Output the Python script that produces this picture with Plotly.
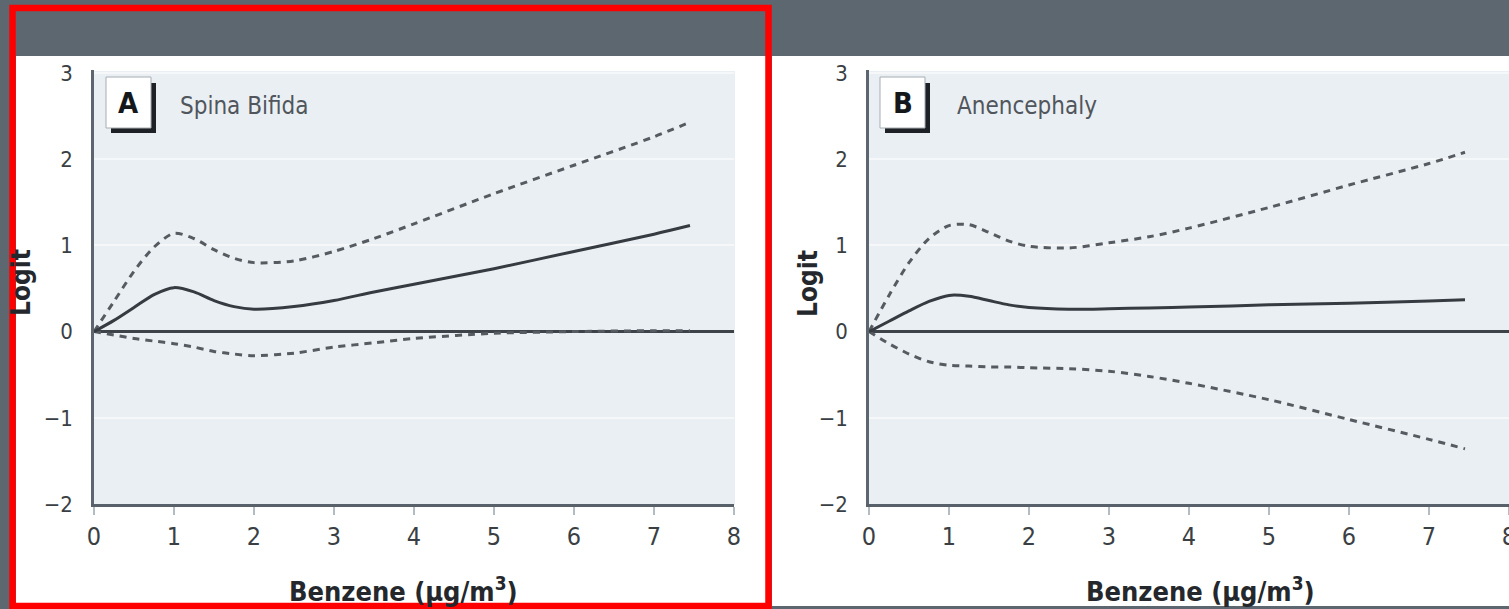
import plotly.graph_objects as go

# ---------------- data ----------------
x_vals = [0, 0.25, 0.5, 0.75, 1, 1.25, 1.5, 1.75, 2, 2.5, 3, 3.5, 4, 5, 6, 7, 7.45]

a_center = [0, 0.13, 0.28, 0.43, 0.51, 0.46, 0.36, 0.29, 0.26, 0.29, 0.36, 0.46, 0.55, 0.73, 0.93, 1.13, 1.23]
a_upper = [0, 0.35, 0.70, 0.98, 1.14, 1.08, 0.95, 0.85, 0.80, 0.82, 0.93, 1.08, 1.25, 1.60, 1.93, 2.26, 2.43]
a_lower = [0, -0.04, -0.08, -0.11, -0.14, -0.18, -0.23, -0.26, -0.28, -0.25, -0.18, -0.13, -0.08, -0.02, 0.0, 0.01, 0.01]

b_center = [0, 0.12, 0.24, 0.35, 0.42, 0.41, 0.36, 0.31, 0.28, 0.26, 0.265, 0.275, 0.285, 0.31, 0.33, 0.355, 0.37]
b_upper = [0, 0.42, 0.80, 1.08, 1.23, 1.24, 1.15, 1.05, 0.99, 0.97, 1.03, 1.10, 1.20, 1.44, 1.70, 1.95, 2.08]
b_lower = [0, -0.14, -0.26, -0.35, -0.39, -0.40, -0.41, -0.41, -0.42, -0.43, -0.46, -0.52, -0.60, -0.79, -1.02, -1.25, -1.36]

x_ticks = [0, 1, 2, 3, 4, 5, 6, 7, 8]
y_ticks = [-2, -1, 0, 1, 2, 3]
panel_letters = ["A", "B"]
panel_names = ["Spina Bifida", "Anencephaly"]
x_title = "Benzene (µg/m<sup>3</sup>)"
y_title = "Logit"

# ---------------- layout helpers ----------------
W, H = 1509, 609
FONT = "DejaVu Sans Condensed, Liberation Sans Narrow, Roboto Condensed, Arial Narrow, sans-serif"
BG = "#5c6770"
PLOT_BG = "#eaeff3"
TXT = "#3a3f44"


def px(x):
    return x / W


def py(y):
    return 1 - y / H


def rect(x0, y0, x1, y1, fill, line_color=None, line_width=0, layer="below"):
    return dict(type="rect", xref="paper", yref="paper",
                x0=px(x0), x1=px(x1), y0=py(y1), y1=py(y0),
                fillcolor=fill, layer=layer,
                line=dict(color=line_color or fill, width=line_width))


fig = go.Figure()

series = [(a_center, a_upper, a_lower, "x", "y"), (b_center, b_upper, b_lower, "x2", "y2")]
for center, upper, lower, xa, ya in series:
    for vals, dash, color, width in [(upper, "7px,6px", "#555b61", 3),
                                     (lower, "7px,6px", "#555b61", 3),
                                     (center, "solid", "#363b41", 3)]:
        fig.add_trace(go.Scatter(x=x_vals, y=vals, xaxis=xa, yaxis=ya, mode="lines",
                                 line=dict(color=color, width=width, dash=dash,
                                           shape="spline", smoothing=0.8),
                                 showlegend=False, hoverinfo="skip"))

y_dom = [py(504), py(70.4)]
common_x = dict(range=[0, 8], tickvals=x_ticks, showgrid=False, zeroline=False,
                showline=True, linecolor="#58616a", linewidth=3, automargin=False,
                ticks="outside", ticklen=8, tickwidth=2, tickcolor="#b3bbc3",
                ticklabeloverflow="allow",
                tickfont=dict(family=FONT, size=25, color=TXT), fixedrange=True)
common_y = dict(range=[-2, 3.03], tickvals=y_ticks, domain=y_dom, automargin=False,
                showgrid=True, gridcolor="#f5f7f9", gridwidth=2,
                zeroline=True, zerolinecolor="#3d4349", zerolinewidth=2.5,
                showline=True, linecolor="#5d666e", linewidth=2.5,
                ticks="", ticklabelstandoff=14,
                tickfont=dict(family=FONT, size=22, color=TXT), fixedrange=True)

fig.update_layout(
    width=W, height=H, margin=dict(l=0, r=0, t=0, b=0, pad=0, autoexpand=False),
    paper_bgcolor=BG, plot_bgcolor="rgba(0,0,0,0)",
    xaxis=dict(domain=[px(94), px(734)], anchor="y", **common_x),
    yaxis=dict(anchor="x", **common_y),
    xaxis2=dict(domain=[px(869), 1.0], anchor="y2", **common_x),
    yaxis2=dict(anchor="x2", **common_y),
)

shapes = [
    rect(16, 56, 766, 604, "white"),
    rect(772, 56, W, 606, "white"),
    rect(94, 71, 735, 505, PLOT_BG),
    rect(869, 71, W, 505, PLOT_BG),
]
annotations = []
box_x = [106, 880]
name_x = [178, 955]
title_x = [403.5, 1200]
ylab_x = [21, 808]
for i in range(2):
    bx = box_x[i]
    shapes.append(rect(bx + 5, 83, bx + 50, 133, "#1e2226"))
    shapes.append(rect(bx, 77, bx + 45, 128, "white", "#a7adb3", 1))
    annotations.append(dict(text="<b>%s</b>" % panel_letters[i], x=px(bx + 22.5), y=py(103),
                            xref="paper", yref="paper", showarrow=False,
                            xanchor="center", yanchor="middle",
                            font=dict(family=FONT, size=29, color="#15181b")))
    annotations.append(dict(text=panel_names[i], x=px(name_x[i]), y=py(106),
                            xref="paper", yref="paper", showarrow=False,
                            xanchor="left", yanchor="middle",
                            font=dict(family=FONT, size=24, color="#50565c")))
    annotations.append(dict(text="<b>%s</b>" % x_title, x=px(title_x[i]), y=py(589),
                            xref="paper", yref="paper", showarrow=False,
                            xanchor="center", yanchor="middle",
                            font=dict(family=FONT, size=27, color="#24282c")))
    annotations.append(dict(text="<b>%s</b>" % y_title, x=px(ylab_x[i]), y=py(283),
                            xref="paper", yref="paper", showarrow=False, textangle=-90,
                            xanchor="center", yanchor="middle",
                            font=dict(family=FONT, size=26, color="#24282c")))

# red highlight frame around panel A (drawn on top)
shapes.append(dict(type="rect", xref="paper", yref="paper",
                   x0=px(12.5), x1=px(768.5), y0=py(606), y1=py(8),
                   line=dict(color="#ff0000", width=6.5), fillcolor="rgba(0,0,0,0)", layer="above"))

fig.update_layout(shapes=shapes, annotations=annotations)
fig.write_html("out.html")
